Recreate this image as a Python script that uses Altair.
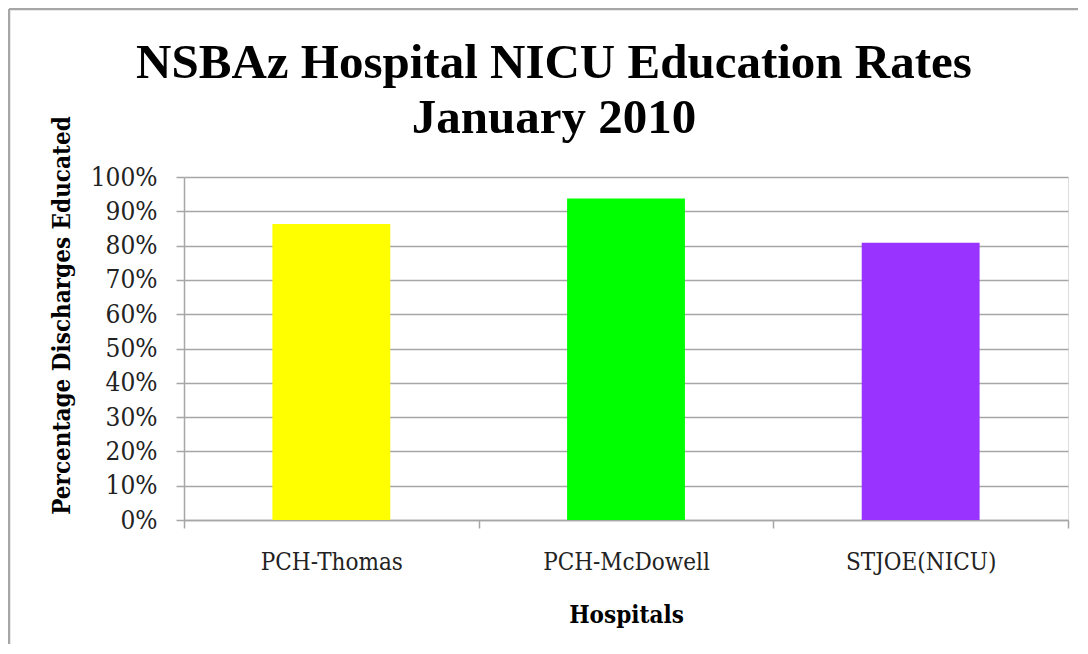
import altair as alt
import pandas as pd

hospitals = ["PCH-Thomas", "PCH-McDowell", "STJOE(NICU)"]
rates = [0.863, 0.937, 0.808]
bar_colors = ["#FFFF00", "#00FF00", "#9933FF"]
y_ticks = [0.0, 0.1, 0.2, 0.3, 0.4, 0.5, 0.6, 0.7, 0.8, 0.9, 1.0]
title_lines = ["NSBAz Hospital NICU Education Rates", "January 2010"]

df = pd.DataFrame({"Hospital": hospitals, "Rate": rates})

SERIF = "DejaVu Serif Condensed"
TITLE_FONT = "Liberation Serif"
GRAY = "#a6a6a6"

bars = alt.Chart(df).mark_bar(width=alt.RelativeBandSize(0.4)).encode(
    x=alt.X(
        "Hospital:N",
        sort=hospitals,
        scale=alt.Scale(paddingInner=0, paddingOuter=0),
        axis=alt.Axis(
            title="Hospitals",
            labelAngle=0,
            labelFont=SERIF,
            labelFontSize=24,
            labelColor="#222222",
            labelPadding=22,
            tickBand="extent",
            tickSize=8,
            tickColor=GRAY,
            tickWidth=1.5,
            domainColor=GRAY,
            domainWidth=1.5,
            grid=False,
            titleFont=SERIF,
            titleFontSize=24,
            titleFontWeight="bold",
            titleColor="#000000",
            titleX=442,
            titleY=102,
            titleBaseline="alphabetic",
        ),
    ),
    y=alt.Y(
        "Rate:Q",
        scale=alt.Scale(domain=[0, 1], nice=False),
        axis=alt.Axis(
            title="Percentage Discharges Educated",
            values=y_ticks,
            format=".0%",
            labelFont=SERIF,
            labelFontSize=26,
            labelColor="#222222",
            labelPadding=19,
            tickSize=8,
            tickColor=GRAY,
            tickWidth=1.5,
            domainColor=GRAY,
            domainWidth=1.5,
            grid=True,
            gridColor=GRAY,
            gridWidth=1.5,
            titleFont=SERIF,
            titleFontSize=24,
            titleFontWeight="bold",
            titleColor="#000000",
            titleAngle=270,
            titleX=-122,
            titleY=138,
            titleAlign="center",
            titleBaseline="middle",
        ),
    ),
    color=alt.Color(
        "Hospital:N",
        scale=alt.Scale(domain=hospitals, range=bar_colors),
        legend=None,
    ),
)

title_text = alt.Chart(alt.Data(values=[{}])).mark_text(
    font=TITLE_FONT,
    fontSize=49,
    fontWeight="bold",
    color="#000000",
    align="center",
    baseline="alphabetic",
    lineHeight=55,
).encode(
    x=alt.value(370),
    y=alt.value(-99),
    text=alt.value(title_lines),
)

frame_top = alt.Chart(alt.Data(values=[{}])).mark_rule(
    color=GRAY, strokeWidth=2.5
).encode(x=alt.value(-175), x2=alt.value(894), y=alt.value(-168))

frame_left = alt.Chart(alt.Data(values=[{}])).mark_rule(
    color=GRAY, strokeWidth=2.5
).encode(x=alt.value(-175), y=alt.value(-168), y2=alt.value(467))

chart = alt.layer(bars, title_text, frame_top, frame_left).properties(
    width=884,
    height=343,
    autosize=alt.AutoSizeParams(type="none"),
    padding={"left": 176, "top": 169, "right": 10, "bottom": 124},
).configure_view(stroke=None).configure(background="white")

chart.save("out.html", embed_options={"renderer": "svg", "actions": False})
